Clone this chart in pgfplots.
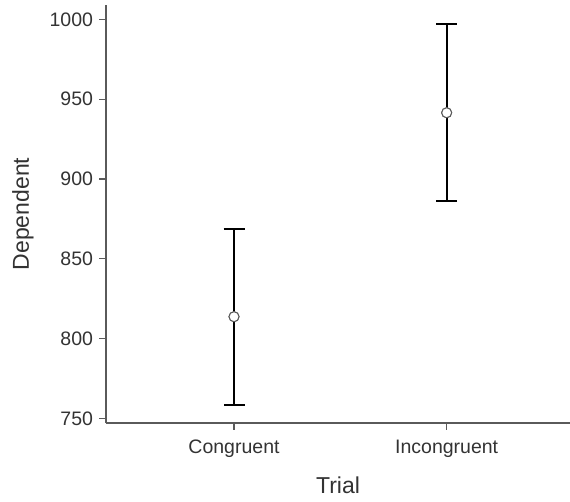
\documentclass[border=0pt]{standalone}
\usepackage{pgfplots}
\pgfplotsset{compat=1.18}
\usepackage{fontspec}
\setmainfont{Liberation Sans}
\definecolor{txt}{HTML}{333333}
\definecolor{axl}{HTML}{5A5A5A}
\begin{document}
\begin{tikzpicture}
\begin{axis}[
  scale only axis,
  width=464pt, height=418pt,
  xmin=-0.602, xmax=1.58,
  ymin=747.1, ymax=1009,
  axis x line=bottom, axis y line=left,
  axis line style={-, axl, line width=1.2pt},
  xtick={0,1}, xticklabels={Congruent,Incongruent},
  ytick={750,800,850,900,950,1000},
  tick align=outside,
  major tick length=6.5pt,
  tick style={axl, line width=1.2pt},
  /pgf/number format/assume math mode=true,
  /pgf/number format/1000 sep={},
  ticklabel style={font=\fontsize{19.5}{22}\selectfont, text=txt},
  xticklabel style={yshift=-7pt},
  yticklabel style={xshift=-3pt},
  xlabel={Trial}, ylabel={Dependent},
  label style={font=\fontsize{23}{27}\selectfont, text=txt},
  xlabel style={yshift=-12pt},
  ylabel style={yshift=9pt},
  clip=false,
]
\addplot[
  only marks, mark=o,
  mark options={draw=axl, fill=white, line width=1pt, mark size=5pt},
  error bars/.cd, y dir=both, y explicit,
  error bar style={black, line width=2pt},
  error mark options={rotate=90, mark size=10.5pt, line width=2pt, black},
] coordinates {
  (0,813.7) +- (0,55.2)
  (1,941.5) +- (0,55.3)
};
\addplot[only marks, mark=*, mark options={draw=axl, fill=white, line width=1pt, mark size=5pt}] coordinates {(0,813.7) (1,941.5)};
\end{axis}
\pgfresetboundingbox
\path[use as bounding box] (-106pt,-78pt) rectangle (464pt,423pt);
\end{tikzpicture}
\end{document}
